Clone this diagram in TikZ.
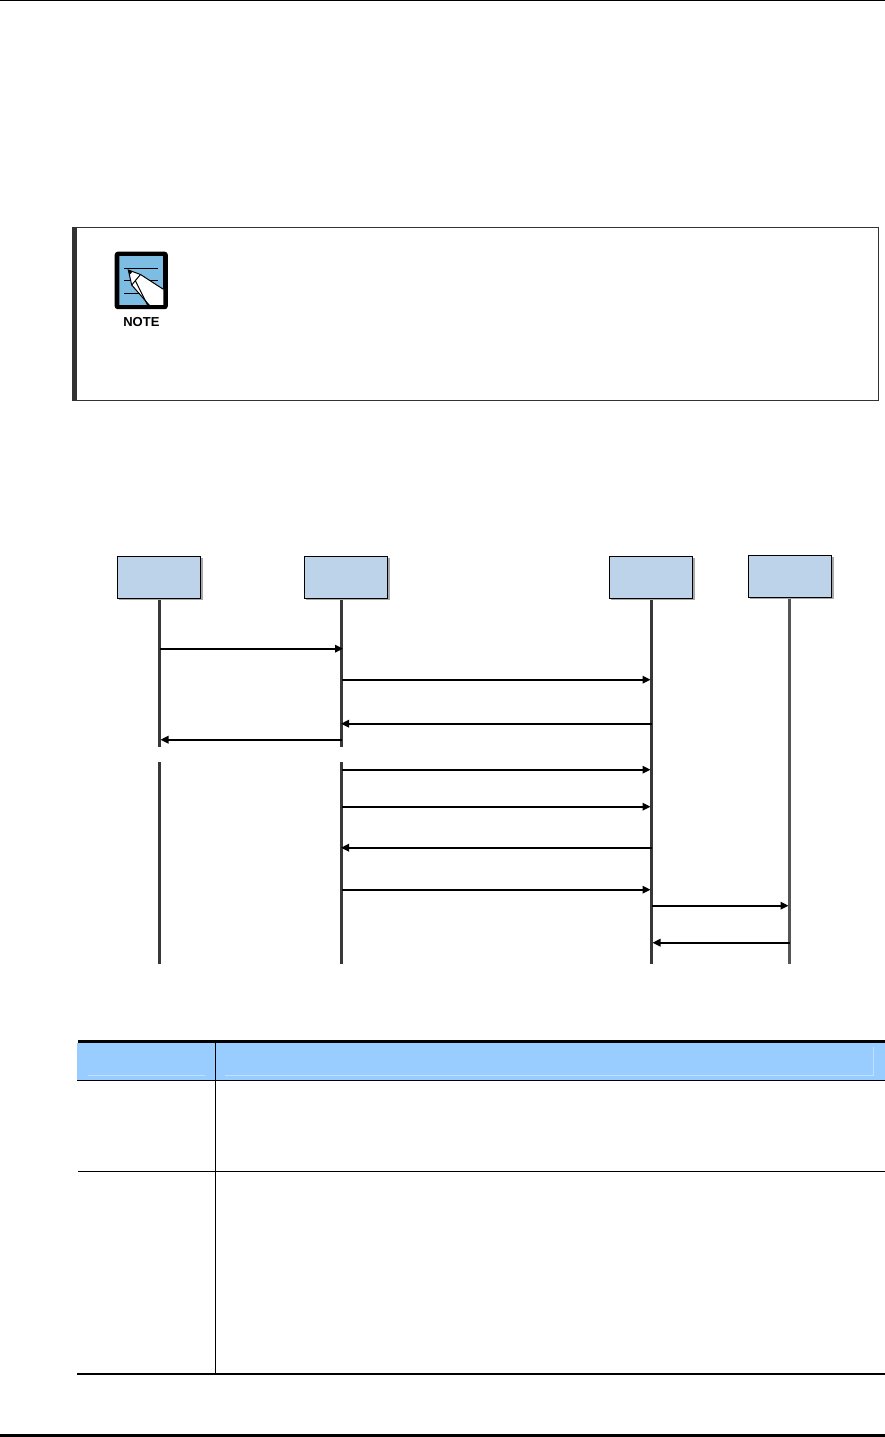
\documentclass[tikz,border=0pt]{standalone}
\usepackage{fontspec}
\setmainfont{Liberation Sans}
\usetikzlibrary{arrows.meta}
\definecolor{boxblue}{HTML}{BDD3EA}
\definecolor{headblue}{HTML}{99CCFF}
\definecolor{headline}{HTML}{C2E0FF}
\definecolor{iconblue}{HTML}{7DBDE3}
\definecolor{lifegray}{HTML}{383838}
\definecolor{lifegrayb}{HTML}{555555}
\definecolor{notegray}{HTML}{333333}
\definecolor{shadowgray}{HTML}{A8A8A8}
\tikzset{
  entity/.style={draw=black,line width=1.4pt,fill=boxblue,minimum width=83.4pt,minimum height=42pt,inner sep=0pt},
  boxshadow/.style={fill=shadowgray},
  lifeline/.style={draw=lifegray,line width=2.4pt},
  message/.style={draw=black,line width=1.6pt,-{Triangle[length=8pt,width=7.5pt]}},
  rule/.style={draw=black,line width=#1},
  rule/.default=1.3pt,
  notetext/.style={font=\bfseries\fontsize{13}{14}\selectfont,inner sep=0pt},
  pencilline/.style={draw=black,line width=1pt}
}
\begin{document}
\begin{tikzpicture}[x=1pt,y=-1pt]
\useasboundingbox (0,0) rectangle (885,1437);
\fill[white] (0,0) rectangle (885,1437);
% page rules
\draw[rule=1.6pt] (0,0.6) -- (885,0.6);
\draw[rule=3pt] (0,1435.5) -- (885,1435.5);
% note frame
\draw[draw=notegray,line width=1.4pt] (77,227.4) -- (878.5,227.4) -- (878.5,400.4) -- (77,400.4);
\fill[notegray] (72,226.8) rectangle (77,401);
% note icon
\fill[black,rounded corners=3pt] (114.7,251.7) rectangle (167.8,309.2);
\begin{scope}
\clip (119.3,256.2) rectangle (163.3,304.6);
\fill[iconblue] (119.3,256.2) rectangle (163.3,304.6);
\draw[black,line width=0.9pt] (124,268.2) -- (158,268.2) (124,280.5) -- (158,280.5) (124,293) -- (140,293);
\filldraw[pencilline,fill=white] (128.3,270) -- (140.5,274.5) -- (166,291) -- (166,306) -- (150,306) -- (131.7,285) -- cycle;
\draw[pencilline] (131.7,285) -- (140.5,274.5);
\draw[pencilline] (135.5,281) -- (148,306);
\fill[black] (128.3,270) -- (132.5,271.6) -- (129.6,275) -- cycle;
\end{scope}
\node[notetext] (notelabel) at (141.4,322) {NOTE};
% entities
\fill[boxshadow] (119.3,558.3) rectangle (202.7,600.3);
\fill[boxshadow] (306.3,558.3) rectangle (389.7,600.3);
\fill[boxshadow] (611.3,558.3) rectangle (694.7,600.3);
\fill[boxshadow] (750.3,557.3) rectangle (833.7,599.3);
\node[entity] (b1) at (159,577.3) {};
\node[entity] (b2) at (346,577.3) {};
\node[entity] (b3) at (651,577.3) {};
\node[entity] (b4) at (790,576.3) {};
% lifeline anchors
\coordinate (l1a) at (159.5,600);
\coordinate (l1b) at (159.5,746.7);
\coordinate (l1c) at (159.5,762);
\coordinate (l1d) at (159.5,964);
\coordinate (l2a) at (341.5,600);
\coordinate (l2b) at (341.5,746.7);
\coordinate (l2c) at (341.5,762);
\coordinate (l2d) at (341.5,964);
\coordinate (l3a) at (651.5,600);
\coordinate (l3d) at (651.5,964);
\coordinate (l4a) at (789.5,599);
\coordinate (l4d) at (789.5,964);
\draw[lifeline] (l1a) -- (l1b) (l1c) -- (l1d);
\draw[lifeline] (l2a) -- (l2b) (l2c) -- (l2d);
\draw[lifeline] (l3a) -- (l3d);
\draw[lifeline,draw=lifegrayb] (l4a) -- (l4d);
% messages
\foreach \nm/\yy in {m1/648.7,m2/679.7,m3/723.7,m4/739.7,m5/769.7,m6/806.7,m7/847.7,m8/889.7,m9/905.7,m10/942.7}{
  \coordinate (\nm l1) at (159.5,\yy);
  \coordinate (\nm l2) at (341.5,\yy);
  \coordinate (\nm l3) at (651.5,\yy);
  \coordinate (\nm l4) at (789.5,\yy);
}
\draw[message,shorten >=-1.5pt] (m1l1) -- (m1l2);
\draw[message,shorten >=1pt] (m2l2) -- (m2l3);
\draw[message,shorten >=-0.5pt] (m3l3) -- (m3l2);
\draw[message,shorten >=1pt] (m4l2) -- (m4l1);
\draw[message,shorten >=1pt] (m5l2) -- (m5l3);
\draw[message,shorten >=1pt] (m6l2) -- (m6l3);
\draw[message,shorten >=-0.5pt] (m7l3) -- (m7l2);
\draw[message,shorten >=1pt] (m8l2) -- (m8l3);
\draw[message,shorten >=1pt] (m9l3) -- (m9l4);
\draw[message,shorten >=1pt] (m10l4) -- (m10l3);
% table
\fill[headblue] (77,1043) rectangle (885,1080);
\draw[headline,line width=0.8pt] (88,1075) -- (205,1075);
\draw[headline,line width=0.8pt] (225,1075) -- (873.7,1075) -- (873.7,1047);
\fill[black] (78,1040) rectangle (885,1043);
\draw[rule=1.5pt] (77,1080.4) -- (885,1080.4);
\draw[rule=1.5pt] (78,1171.3) -- (885,1171.3);
\draw[rule=2pt] (77,1374) -- (885,1374);
\draw[rule=1.5pt] (215.3,1043) -- (215.3,1374);
\end{tikzpicture}
\end{document}
